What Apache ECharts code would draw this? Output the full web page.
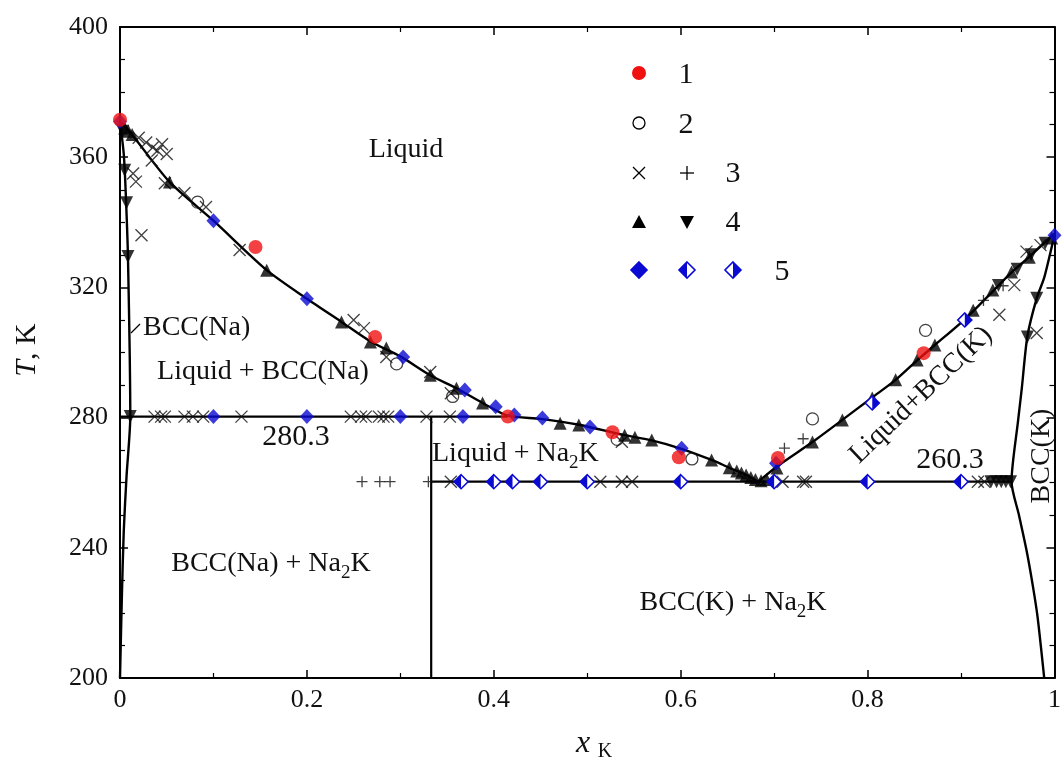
<!DOCTYPE html>
<html><head><meta charset="utf-8">
<script src="https://cdn.jsdelivr.net/npm/echarts/dist/echarts.min.js"></script>
<style>html,body{margin:0;padding:0;background:#fff}#c{width:1064px;height:763px}</style>
</head><body><div id="c"></div>
<script>
// ---- data (x_K, T in K) ----
const xTicks = [0, 0.2, 0.4, 0.6, 0.8, 1];
const yTicks = [200, 240, 280, 320, 360, 400];
const liquidusLeft = [[0,371],[0.01,368],[0.053,352.4],[0.1,340.5],[0.157,325.3],[0.2,316.5],[0.237,309.4],[0.268,303.4],[0.3,298.8],[0.332,293],[0.36,289],[0.388,284.5],[0.415,280.6],[0.45,279.6],[0.491,277.8],[0.54,274.6],[0.569,273],[0.6,270.5],[0.633,267],[0.652,264.6],[0.67,262.4],[0.683,260.3]];
const liquidusRight = [[0.683,260.3],[0.703,265],[0.741,272.5],[0.773,279.3],[0.805,286.2],[0.83,291.6],[0.853,297.6],[0.872,302.3],[0.904,310.2],[0.934,318.8],[0.954,324.6],[0.973,329.4],[1,336.5]];
const solidusLeft = [[0,371],[0.004,361],[0.006,350],[0.0085,329.5],[0.011,280.3],[0.007,262],[0.004,245],[0.002,225],[0,200]];
const solidusRight = [[1,336.5],[0.997,332.4],[0.989,323],[0.981,316.7],[0.971,305],[0.965,289],[0.961,279],[0.954,260.3],[0.962,250],[0.97,239.3],[0.977,228],[0.982,218.5],[0.989,200]];
const eutectic1 = [[0,280.3],[0.415,280.3]];
const eutectic2 = [[0.333,260.3],[0.955,260.3]];
const na2kLine = [[0.333,280.3],[0.333,200]];
const set1 = [[0,371.5],[0.145,332.4],[0.273,304.8],[0.415,280.3],[0.527,275.5],[0.598,267.8],[0.704,267.6],[0.86,299.8]];
const set2 = [[0.083,346.2],[0.296,296.5],[0.356,286.5],[0.532,273.3],[0.612,267.3],[0.741,279.6],[0.862,306.8]];
const set3x = [[0.02,366],[0.028,364.5],[0.035,363],[0.04,362],[0.045,364],[0.05,361],[0.034,359],[0.014,355],[0.017,352.5],[0.048,352],[0.069,349],[0.092,344.7],[0.023,336],[0.128,331.5],[0.25,310],[0.261,307.5],[0.285,298.6],[0.332,294],[0.354,287.5],[0.537,272.6],
  [0.037,280.3],[0.044,280.3],[0.048,280.3],[0.069,280.3],[0.078,280.3],[0.089,280.3],[0.13,280.3],[0.247,280.3],[0.258,280.3],[0.263,280.3],[0.277,280.3],[0.282,280.3],[0.287,280.3],[0.328,280.3],[0.353,280.3],
  [0.354,260.3],[0.514,260.3],[0.537,260.3],[0.548,260.3],[0.709,260.3],[0.731,260.3],[0.734,260.3],[0.918,260.3],[0.925,260.3],
  [0.941,311.6],[0.957,320.7],[0.981,306],[0.97,331],[0.985,333]];
const set3p = [[0.259,260.3],[0.278,260.3],[0.289,260.3],[0.33,260.3],[0.711,270.6],[0.731,273.5],[0.924,316],[0.945,320.5]];
const set4up = [[0.005,369],[0.009,368],[0.013,367],[0.053,352.4],[0.157,325.3],[0.237,309.4],[0.268,303.2],[0.285,301.4],[0.332,293],[0.36,289],[0.388,284.5],[0.471,278.3],[0.491,277.7],[0.54,274.6],[0.551,274],[0.569,273.1],[0.633,267],[0.652,264.6],[0.66,263.6],[0.665,263],[0.67,262.4],[0.675,261.6],[0.68,261],[0.686,260.6],[0.692,261],
  [0.703,264.5],[0.741,272.5],[0.773,279.3],[0.805,286],[0.83,291.6],[0.853,297.7],[0.872,302.3],[0.913,313],[0.934,319.2],[0.954,324.7],[0.973,329.3],[0.997,335.2]];
const set4down = [[0.003,368],[0.005,356],[0.007,346],[0.0085,329.5],[0.011,280.3],[0.981,316.7],[0.971,304.8],[0.94,320.6],[0.96,325.6],[0.975,330],[0.99,333.6],
  [0.932,260.3],[0.938,260.3],[0.943,260.3],[0.948,260.3],[0.953,260.3]];
const set5full = [[0,371],[0.1,340.5],[0.2,316.5],[0.303,298.6],[0.369,288.5],[0.402,283.3],[0.422,280.8],[0.452,279.9],[0.503,277.1],[0.601,270.6],[0.702,266],[1,336],
  [0.1,280.3],[0.2,280.3],[0.3,280.3],[0.367,280.3]];
const set5left = [[0.365,260.3],[0.4,260.3],[0.42,260.3],[0.45,260.3],[0.5,260.3],[0.6,260.3],[0.7,260.3],[0.8,260.3],[0.9,260.3]];
const set5right = [[0.805,284.5],[0.904,310]];

const BLUE = '#0a0ad2', RED = '#f01010', SERIF = '"Liberation Serif","Times New Roman",serif';
const crossPath = 'path://M0,0L10,10M10,0L0,10';
const plusPath = 'path://M5,0L5,10M0,5L10,5';

function diamondItem(side){
  return function(params, api){
    const p = api.coord([api.value(0), api.value(1)]);
    const r = 7;
    const pts = [[p[0],p[1]-r],[p[0]+r,p[1]],[p[0],p[1]+r],[p[0]-r,p[1]]];
    const half = side === 'left'
      ? [[p[0],p[1]-r],[p[0]-r,p[1]],[p[0],p[1]+r]]
      : [[p[0],p[1]-r],[p[0]+r,p[1]],[p[0],p[1]+r]];
    return {type:'group', children:[
      {type:'polygon', shape:{points:pts}, style:{fill:'#fff', stroke:BLUE, lineWidth:1.6}},
      {type:'polygon', shape:{points:half}, style:{fill:BLUE}}
    ]};
  };
}
function lineSeries(data){
  return {type:'line', data, showSymbol:false, smooth:0.25, silent:true, z:2,
    lineStyle:{color:'#000', width:2.4}};
}
function straight(data){
  return {type:'line', data, showSymbol:false, silent:true, z:2, lineStyle:{color:'#000', width:2.2}};
}

const axisLine = {show:true, onZero:false, lineStyle:{color:'#000', width:2}};
const axisTick = {show:true, inside:true, length:8, lineStyle:{color:'#000', width:1.5}};

function gtext(text, x, y, size, extra){
  return Object.assign({type:'text', x, y, style:{text, font:`${size}px ${SERIF}`, fill:'#111', textAlign:'center', textVerticalAlign:'middle'}, z:100}, extra||{});
}
function gdiamond(cx, cy, mode){
  const r = 8;
  const pts = [[cx,cy-r],[cx+r,cy],[cx,cy+r],[cx-r,cy]];
  const out = [{type:'polygon', shape:{points:pts}, style:{fill: mode==='full'?BLUE:'#fff', stroke:BLUE, lineWidth:1.6}, z:100}];
  if (mode==='left') out.push({type:'polygon', shape:{points:[[cx,cy-r],[cx-r,cy],[cx,cy+r]]}, style:{fill:BLUE}, z:101});
  if (mode==='right') out.push({type:'polygon', shape:{points:[[cx,cy-r],[cx+r,cy],[cx,cy+r]]}, style:{fill:BLUE}, z:101});
  return out;
}
// text with a subscript: parts = [[text, isSub], ...]
const mctx = document.createElement('canvas').getContext('2d');
function subText(parts, x, y, align){
  const fN = `28px ${SERIF}`, fS = `19px ${SERIF}`;
  const widths = parts.map(p => { mctx.font = p[1] ? fS : fN; return mctx.measureText(p[0]).width; });
  const total = widths.reduce((a,b)=>a+b,0);
  let cx = align === 'center' ? x - total/2 : x;
  const out = [];
  parts.forEach((p,i) => {
    out.push({type:'text', x:cx, y: p[1] ? y + 9 : y, style:{text:p[0], font: p[1]?fS:fN, fill:'#111', textAlign:'left', textVerticalAlign:'middle'}, z:100});
    cx += widths[i];
  });
  return out;
}

const legendGraphics = [
  {type:'circle', shape:{cx:639, cy:73, r:7}, style:{fill:RED}, z:100},
  gtext('1', 686, 75, 30),
  {type:'circle', shape:{cx:639, cy:123, r:6}, style:{fill:'#fff', stroke:'#000', lineWidth:1.3}, z:100},
  gtext('2', 686, 125, 30),
  {type:'polyline', shape:{points:[[633,167],[645,179]]}, style:{stroke:'#000', lineWidth:1.3}, z:100},
  {type:'polyline', shape:{points:[[645,167],[633,179]]}, style:{stroke:'#000', lineWidth:1.3}, z:100},
  {type:'polyline', shape:{points:[[687,166],[687,180]]}, style:{stroke:'#000', lineWidth:1.3}, z:100},
  {type:'polyline', shape:{points:[[680,173],[694,173]]}, style:{stroke:'#000', lineWidth:1.3}, z:100},
  gtext('3', 733, 174, 30),
  {type:'polygon', shape:{points:[[639,215],[646,228],[632,228]]}, style:{fill:'#000'}, z:100},
  {type:'polygon', shape:{points:[[687,229],[694,216],[680,216]]}, style:{fill:'#000'}, z:100},
  gtext('4', 733, 223, 30),
  ...gdiamond(639, 270, 'full'), ...gdiamond(687, 270, 'left'), ...gdiamond(733, 270, 'right'),
  gtext('5', 782, 272, 30)
];

const labels = [
  gtext('Liquid', 406, 150, 28),
  {type:'text', x:143, y:328, style:{text:'BCC(Na)', font:`28px ${SERIF}`, fill:'#111', textAlign:'left', textVerticalAlign:'middle'}, z:100},
  {type:'polyline', shape:{points:[[131,333],[140,324]]}, style:{stroke:'#000', lineWidth:1.3}, z:100},
  gtext('Liquid + BCC(Na)', 263, 372, 28),
  gtext('280.3', 296, 437, 30),
  ...subText([['Liquid + Na',0],['2',1],['K',0]], 432, 454, 'left'),
  ...subText([['BCC(Na) + Na',0],['2',1],['K',0]], 271, 564, 'center'),
  ...subText([['BCC(K) + Na',0],['2',1],['K',0]], 733, 603, 'center'),
  gtext('260.3', 950, 460, 30),
  gtext('Liquid+BCC(K)', 921, 395, 28, {rotation: 0.76}),
  gtext('BCC(K)', 1042, 456, 28, {rotation: Math.PI/2}),
  {type:'text', x:27, y:350, rotation:Math.PI/2, style:{text:'{i|T}{r|, K}', rich:{i:{font:`italic 30px ${SERIF}`, fill:'#111'}, r:{font:`30px ${SERIF}`, fill:'#111'}}, textAlign:'center', textVerticalAlign:'middle'}, z:100},
  {type:'text', x:583, y:744, style:{text:'x', font:`italic 32px ${SERIF}`, fill:'#111', textAlign:'center', textVerticalAlign:'middle'}, z:100},
  {type:'text', x:605, y:752, style:{text:'K', font:`20px ${SERIF}`, fill:'#111', textAlign:'center', textVerticalAlign:'middle'}, z:100}
];

const minorX = {show:true, splitNumber:2, length:5, lineStyle:{color:'#000', width:1.2}};
const minorY = {show:true, splitNumber:4, length:5, lineStyle:{color:'#000', width:1.2}};
const chart = echarts.init(document.getElementById('c'), null, {renderer:'canvas'});
chart.setOption({
  animation:false,
  backgroundColor:'#fff',
  grid:{left:120, right:4, top:27, bottom:85},
  xAxis:[
    {type:'value', min:xTicks[0], max:xTicks[xTicks.length-1], interval:0.2, position:'bottom',
      axisLine, axisTick, minorTick:minorX, splitLine:{show:false},
      axisLabel:{fontFamily:SERIF, fontSize:26, color:'#111', margin:9,
        formatter:v=>String(+v.toFixed(1))}},
    {type:'value', min:0, max:1, interval:0.2, position:'top', axisLabel:{show:false},
      axisLine, axisTick, minorTick:minorX, splitLine:{show:false}}
  ],
  yAxis:[
    {type:'value', min:yTicks[0], max:yTicks[yTicks.length-1], interval:40, position:'left',
      axisLine, axisTick, minorTick:minorY, splitLine:{show:false},
      axisLabel:{fontFamily:SERIF, fontSize:26, color:'#111', margin:12}},
    {type:'value', min:200, max:400, interval:40, position:'right', axisLabel:{show:false},
      axisLine, axisTick, minorTick:minorY, splitLine:{show:false}}
  ],
  series:[
    lineSeries(liquidusLeft), lineSeries(liquidusRight), lineSeries(solidusLeft), lineSeries(solidusRight),
    straight(eutectic1), straight(eutectic2), straight(na2kLine),
    {type:'scatter', data:set3x, symbol:crossPath, symbolSize:12, z:5, itemStyle:{color:'transparent', borderColor:'#111', borderWidth:1.3}},
    {type:'scatter', data:set3p, symbol:plusPath, symbolSize:11, z:5, itemStyle:{color:'transparent', borderColor:'#111', borderWidth:1.3}},
    {type:'scatter', data:set2, symbol:'circle', symbolSize:12, z:6, itemStyle:{color:'rgba(255,255,255,0)', borderColor:'#111', borderWidth:1.3}},
    {type:'scatter', data:set4up, symbol:'triangle', symbolSize:13, z:7, itemStyle:{color:'#000'}},
    {type:'scatter', data:set4down, symbol:'triangle', symbolRotate:180, symbolSize:13, z:7, itemStyle:{color:'#000'}},
    {type:'custom', data:set5left, renderItem:diamondItem('left'), z:8, encode:{x:0, y:1}},
    {type:'custom', data:set5right, renderItem:diamondItem('right'), z:8, encode:{x:0, y:1}},
    {type:'scatter', data:set5full, symbol:'diamond', symbolSize:[14,15], z:8, itemStyle:{color:BLUE}},
    {type:'scatter', data:set1, symbol:'circle', symbolSize:14, z:9, itemStyle:{color:RED}}
  ],
  graphic: legendGraphics.concat(labels)
});
</script></body></html>
